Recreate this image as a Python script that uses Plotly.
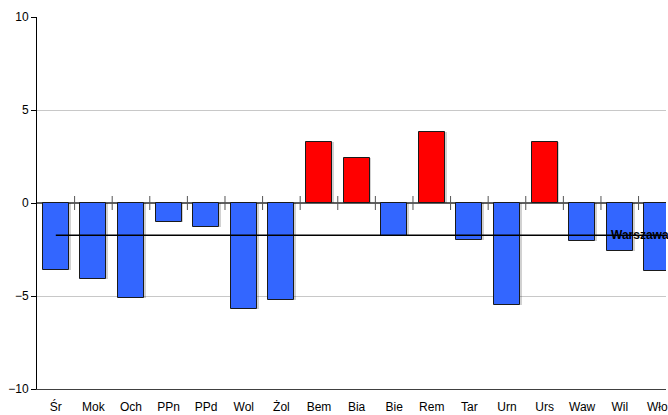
import plotly.graph_objects as go

# District codes and change values
districts = ["Śr", "Mok", "Och", "PPn", "PPd", "Wol", "Żol", "Bem", "Bia",
             "Bie", "Rem", "Tar", "Urn", "Urs", "Waw", "Wil", "Wło"]
values = [-3.6, -4.1, -5.1, -1.0, -1.3, -5.7, -5.2, 3.3, 2.4,
          -1.75, 3.8, -2.0, -5.5, 3.3, -2.05, -2.6, -3.65]
warszawa_value = -1.73
warszawa_label = "Warszawa"
y_ticks = [-10, -5, 0, 5, 10]

idx = list(range(len(districts)))
colors = ["#FF0000" if v > 0 else "#3366FF" for v in values]

fig = go.Figure()

# soft drop shadow behind bars
fig.add_trace(go.Bar(
    x=idx, y=values, width=0.69, offset=-0.345 + 0.05,
    marker=dict(color="rgba(0,0,0,0.18)", line=dict(width=0)),
    hoverinfo="skip", showlegend=False,
))

fig.add_trace(go.Bar(
    x=idx, y=values, width=0.69,
    marker=dict(color=colors, line=dict(color="#1a1a1a", width=1)),
    showlegend=False,
))

# category tick marks crossing the zero line
bounds = [i + 0.5 for i in idx[:-1]]
fig.add_trace(go.Scatter(
    x=bounds, y=[0] * len(bounds), mode="markers",
    marker=dict(symbol="line-ns-open", size=10, color="#555555",
                line=dict(color="#555555", width=1)),
    hoverinfo="skip", showlegend=False,
))

# city-wide reference line
fig.add_trace(go.Scatter(
    x=[idx[0], idx[-1] + 1], y=[warszawa_value, warszawa_value],
    mode="lines", line=dict(color="black", width=1.5),
    hoverinfo="skip", showlegend=False,
))

fig.add_annotation(
    x=14.72, y=warszawa_value, text="<b>" + warszawa_label + "</b>",
    showarrow=False, xanchor="left", yanchor="middle",
    font=dict(family="Liberation Sans, Arial", size=12, color="black"),
)

fig.update_layout(
    width=668, height=415,
    margin=dict(l=37, r=0, t=17, b=26),
    paper_bgcolor="white", plot_bgcolor="white",
    barmode="overlay", bargap=0,
    font=dict(family="Liberation Sans, Arial", size=12, color="black"),
)

fig.update_xaxes(
    range=[-0.5, 16.23], tickmode="array", tickvals=idx, ticktext=districts,
    showgrid=False, zeroline=False, showline=True, linecolor="#404040",
    linewidth=1, ticks="", ticklabelstandoff=7, ticklabeloverflow="allow",
    fixedrange=True,
)
fig.update_yaxes(
    range=[-10, 10], tickmode="array", tickvals=y_ticks,
    showgrid=True, gridcolor="#C8C8C8", gridwidth=1,
    zeroline=True, zerolinecolor="#606060", zerolinewidth=1.5,
    showline=True, linecolor="black", linewidth=1,
    ticks="outside", ticklen=5, tickcolor="black",
)

fig.write_html("out.html")
